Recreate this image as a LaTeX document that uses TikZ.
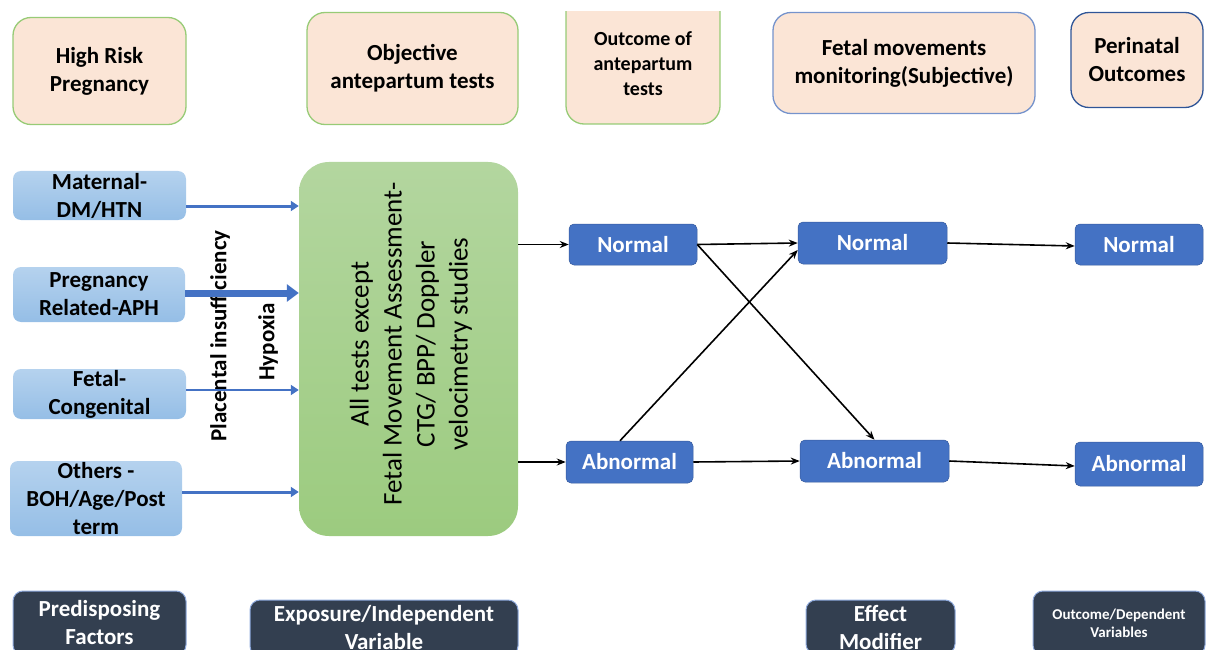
\documentclass[tikz,border=0pt]{standalone}
\usepackage{fontspec}
\setmainfont{Carlito}
\usetikzlibrary{arrows.meta,calc}
\definecolor{peach}{HTML}{FBE5D6}
\definecolor{gborder}{HTML}{97CB76}
\definecolor{bborder}{HTML}{7593CC}
\definecolor{dbborder}{HTML}{2F5597}
\definecolor{midblue}{HTML}{4472C4}
\definecolor{navy}{HTML}{333F50}
\definecolor{navyborder}{HTML}{8FAADC}
\definecolor{lbtop}{HTML}{B5D2EE}
\definecolor{lbbot}{HTML}{95BEE6}
\definecolor{grtop}{HTML}{B3D69F}
\definecolor{grbot}{HTML}{9CCB7F}
\newcommand\fsz[2]{\fontsize{#1}{#2}\selectfont}
\begin{document}
\begin{tikzpicture}[x=1pt,y=-1pt,
  topbox/.style={fill=peach, rounded corners=18pt, line width=1.3pt, align=center, inner sep=0pt, font=\fsz{23}{28}\bfseries},
  leftbox/.style={top color=lbtop, bottom color=lbbot, rounded corners=8pt, align=center, inner sep=0pt, font=\fsz{23}{28}\bfseries},
  midbox/.style={fill=midblue, draw=midblue!80!black, line width=0.5pt, rounded corners=5pt, text=white, inner sep=0pt, font=\fsz{23}{28}\bfseries},
  botbox/.style={fill=navy, draw=navyborder, line width=1pt, rounded corners=10pt, text=white, align=center, inner sep=0pt, font=\fsz{23}{28}\bfseries},
  barrow/.style={draw=midblue, -{Triangle[length=8pt,width=10pt]}},
  karrow/.style={draw=black, line width=1.6pt, -{Stealth[length=9pt,width=7pt]}},
]
\useasboundingbox (0,0) rectangle (1208,650);
\clip (0,0) rectangle (1208,650);

% top row
\node[topbox, draw=gborder, minimum width=173pt, minimum height=107pt] (hrp) at (99.5,71) {High Risk\\Pregnancy};
\node[topbox, draw=gborder, minimum width=211pt, minimum height=112pt] (oat) at (412.5,68.5) {Objective\\antepartum tests};
\begin{scope}
\clip (500,12) rectangle (800,200);
\node[topbox, draw=gborder, minimum width=154pt, minimum height=144pt] (oot) at (643,52) {};
\end{scope}
\node[font=\fsz{20}{25}\bfseries, align=center] (ootl) at (643,64) {Outcome of\\antepartum\\tests};
\node[topbox, draw=bborder, minimum width=262pt, minimum height=101pt] (fmm) at (904,63) {Fetal movements\\monitoring(Subjective)};
\node[topbox, draw=dbborder, minimum width=132pt, minimum height=95pt] (po) at (1137,60) {Perinatal\\Outcomes};

% left boxes
\node[leftbox, minimum width=173pt, minimum height=49pt] (mat) at (99.5,195.5) {Maternal-\\DM/HTN};
\node[leftbox, minimum width=172pt, minimum height=55pt] (prg) at (99,294.5) {Pregnancy\\Related-APH};
\node[leftbox, minimum width=173pt, minimum height=50pt] (fet) at (99.5,394) {Fetal-\\Congenital};
\node[leftbox, minimum width=172pt, minimum height=75pt] (oth) at (96,498.5) {Others -\\BOH/Age/Post\\term};

% big green box
\node[top color=grtop, bottom color=grbot, rounded corners=30pt, minimum width=219pt, minimum height=374pt, inner sep=0pt] (grn) at (408.5,349) {};
\node[rotate=90, align=center, font=\fsz{27}{33}] (grnl) at (411,344) {All tests except\\Fetal Movement Assessment-\\CTG/ BPP/ Doppler\\velocimetry studies};

% rotated labels
\node[rotate=90, font=\fsz{23}{28}\bfseries] (pi) at (220,336) {Placental insufficiency};
\node[rotate=90, font=\fsz{23}{28}\bfseries] (hy) at (268,342) {Hypoxia};

% blue arrows
\draw[barrow, line width=3pt] ([yshift=-10.5pt]mat.east) -- ([yshift=-10.5pt]mat.east -| grn.west);
\draw[barrow, line width=7pt, -{Triangle[length=12pt,width=17pt]}] ([yshift=1.5pt]prg.east) -- ([yshift=1.5pt]prg.east -| grn.west);
\draw[barrow, line width=2pt] ([yshift=4pt]fet.east) -- ([yshift=4pt]fet.east -| grn.west);
\draw[barrow, line width=3pt] ([yshift=6.5pt]oth.east) -- ([yshift=6.5pt]oth.east -| grn.west);

% middle nodes
\node[midbox, minimum width=128pt, minimum height=41pt] (n1) at (633,244.5) {Normal};
\node[midbox, minimum width=127pt, minimum height=42pt] (a1) at (629.5,462) {Abnormal};
\node[midbox, minimum width=149pt, minimum height=42pt] (n2) at (872.5,243) {Normal};
\node[midbox, minimum width=149pt, minimum height=42pt] (a2) at (874.5,461) {Abnormal};
\node[midbox, minimum width=128pt, minimum height=41pt] (n3) at (1139,244.5) {Normal};
\node[midbox, minimum width=128pt, minimum height=44pt] (a3) at (1139,464) {Abnormal};

% black arrows
\draw[karrow] (grn.east |- n1.west) -- (n1.west);
\draw[karrow] (grn.east |- a1.west) -- (a1.west);
\draw[karrow] (n1.east) -- (n2.west);
\draw[karrow] (n1.east) -- (a2.north);
\draw[karrow] ([xshift=-9.5pt]a1.north) -- ([yshift=-7pt]n2.west);
\draw[karrow] (a1.east) -- (a2.west);
\draw[karrow] (n2.east) -- ([yshift=-1.5pt]n3.west);
\draw[karrow] (a2.east) -- ([yshift=-2pt]a3.west);

% bottom row
\node[botbox, minimum width=173pt, minimum height=64pt] (pf) at (99.5,623) {Predisposing\\Factors};
\node[botbox, minimum width=268pt, minimum height=56pt] (ex) at (384,628) {Exposure/Independent\\Variable};
\node[botbox, minimum width=149pt, minimum height=54pt] (em) at (880.5,627) {Effect\\Modifier};
\node[botbox, minimum width=172pt, minimum height=64pt, font=\fsz{15}{18}\bfseries] (od) at (1119,623) {Outcome/Dependent\\Variables};
\end{tikzpicture}
\end{document}
